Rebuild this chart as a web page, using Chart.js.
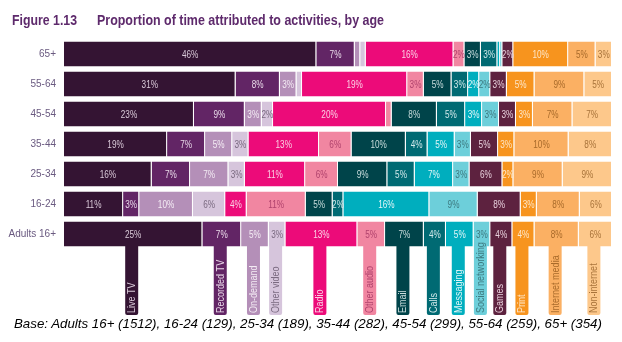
<!DOCTYPE html>
<html><head><meta charset="utf-8">
<script src="https://cdn.jsdelivr.net/npm/chart.js@4"></script>
<style>
html,body{margin:0;padding:0;background:#fff;}
#wrap{position:relative;width:622px;height:342px;}
.tt{position:absolute;top:11.5px;font-family:'Liberation Sans',Arial,sans-serif;font-weight:bold;font-size:14.5px;color:#5e2a6c;white-space:nowrap;transform-origin:0 0;}
#base{position:absolute;left:14px;top:316px;font-family:'Liberation Sans',Arial,sans-serif;font-style:italic;font-size:13.3px;color:#000;white-space:nowrap;}
canvas{position:absolute;left:0;top:0;}
</style></head>
<body><div id="wrap">
<canvas id="c" width="622" height="342"></canvas>
<div class="tt" id="t1" style="left:12px">Figure 1.13</div>
<div class="tt" id="t2" style="left:97px">Proportion of time attributed to activities, by age</div>
<div id="base">Base: Adults 16+ (1512), 16-24 (129), 25-34 (189), 35-44 (282), 45-54 (299), 55-64 (259), 65+ (354)</div>
</div>
<script>
const ageGroups = ['65+','55-64','45-54','35-44','25-34','16-24','Adults 16+'];
const activities = ['Live TV','Recorded TV','On-demand','Other video','Radio','Other audio','Email','Calls','Messaging','Social networking','Games','Print','Internet media','Non-internet'];
// values per activity, one per age group (order of ageGroups); unlabelled slivers estimated
const liveTV       = [46, 31, 23, 19, 16, 11, 25];
const recordedTV   = [7, 8, 9, 7, 7, 3, 7];
const onDemand     = [1, 3, 3, 5, 7, 10, 5];
const otherVideo   = [1, 1, 2, 3, 3, 6, 3];
const radio        = [16, 19, 20, 13, 11, 4, 13];
const otherAudio   = [2, 3, 1, 6, 6, 11, 5];
const email        = [3, 5, 8, 10, 9, 5, 7];
const calls        = [3, 3, 5, 4, 5, 2, 4];
const messaging    = [0.5, 2, 3, 5, 7, 16, 5];
const socialNet    = [0.4, 2, 3, 3, 3, 9, 3];
const games        = [2, 3, 3, 5, 6, 8, 4];
const print        = [10, 5, 3, 3, 2, 3, 4];
const internetMedia= [5, 9, 7, 10, 9, 8, 8];
const nonInternet  = [3, 5, 7, 8, 9, 6, 6];

const series = [liveTV,recordedTV,onDemand,otherVideo,radio,otherAudio,email,calls,messaging,socialNet,games,print,internetMedia,nonInternet];
const colors = ['#341433','#622565','#b48fb8','#d6c5dc','#ec0b79','#f186a1','#00444a','#006a73','#00aebe','#6dcfda','#5d223f','#f7941e','#fbb063','#fdc88b'];
const textColors = ['#d9c9d8','#e8d8e8','#f4ecf4','#7a6a80','#fbd0e4','#b0436d','#c8dcdc','#d0e8ea','#e0f6f8','#3d7a80','#e8d0dc','#fde6c8','#a86a2a','#a8733a'];

// condense title text to the reference widths
[['t1', 65], ['t2', 287]].forEach(([id, w]) => {
  const el = document.getElementById(id);
  const s = w / el.getBoundingClientRect().width;
  el.style.transform = 'scaleX(' + s + ')';
});

const rowSums = ageGroups.map((_, r) => series.reduce((s, arr) => s + arr[r], 0));

const datasets = activities.map((name, i) => ({
  label: name,
  data: series[i].map((v, r) => v / rowSums[r] * 100),
  raw: series[i],
  backgroundColor: colors[i],
  borderColor: 'rgba(255,255,255,0.35)',
  borderWidth: {left:0,right:1,top:0,bottom:0},
  borderSkipped: false,
  barPercentage: 0.84,
  categoryPercentage: 1.0
}));

const FONT = "'Liberation Sans',Arial,sans-serif";
const NARROW = 0.82;

const labelPlugin = {
  id: 'segLabels',
  afterDatasetsDraw(chart) {
    const ctx = chart.ctx;
    chart.data.datasets.forEach((ds, i) => {
      const meta = chart.getDatasetMeta(i);
      meta.data.forEach((el, r) => {
        const v = ds.raw[r];
        if (v < 2) return;
        ctx.save();
        ctx.translate((el.x + el.base) / 2, el.y + 1);
        ctx.scale(NARROW, 1);
        ctx.font = '10px ' + FONT;
        ctx.textAlign = 'center';
        ctx.textBaseline = 'middle';
        ctx.fillStyle = textColors[i];
        ctx.fillText(Math.round(v) + '%', 0, 0);
        ctx.restore();
      });
    });
  }
};

const stemPlugin = {
  id: 'stems',
  afterDatasetsDraw(chart) {
    const ctx = chart.ctx;
    const last = ageGroups.length - 1;
    const stemBottom = 315;
    ctx.save();
    chart.data.datasets.forEach((ds, i) => {
      const el = chart.getDatasetMeta(i).data[last];
      const cx = (el.x + el.base) / 2 - 1.5;
      const top = el.y + el.height / 2 - 0.5;
      const w = 13;
      ctx.fillStyle = colors[i];
      ctx.beginPath();
      ctx.roundRect(cx - w / 2, top, w, stemBottom - top, [0, 0, 2, 2]);
      ctx.fill();
      ctx.save();
      ctx.translate(cx + 0.5, stemBottom - 2);
      ctx.rotate(-Math.PI / 2);
      ctx.scale(NARROW, 1);
      ctx.font = '11px ' + FONT;
      ctx.textAlign = 'left';
      ctx.textBaseline = 'middle';
      ctx.fillStyle = textColors[i];
      ctx.fillText(ds.label, 0, 0);
      ctx.restore();
    });
    ctx.restore();
  }
};

new Chart(document.getElementById('c'), {
  type: 'bar',
  data: { labels: ageGroups, datasets },
  options: {
    indexAxis: 'y',
    responsive: false,
    animation: false,
    layout: { padding: { left: 0, right: 10, top: 39, bottom: 93 } },
    plugins: { legend: { display: false }, tooltip: { enabled: false }, title: { display: false } },
    scales: {
      x: { stacked: true, min: 0, max: 100, display: false },
      y: {
        stacked: true,
        grid: { display: false, drawTicks: false },
        border: { display: false },
        ticks: { color: '#6a5a80', font: { family: FONT, size: 10 }, padding: 8 },
        afterFit(scale) { scale.width = 64; }
      }
    }
  },
  plugins: [labelPlugin, stemPlugin]
});
</script>
</body></html>
